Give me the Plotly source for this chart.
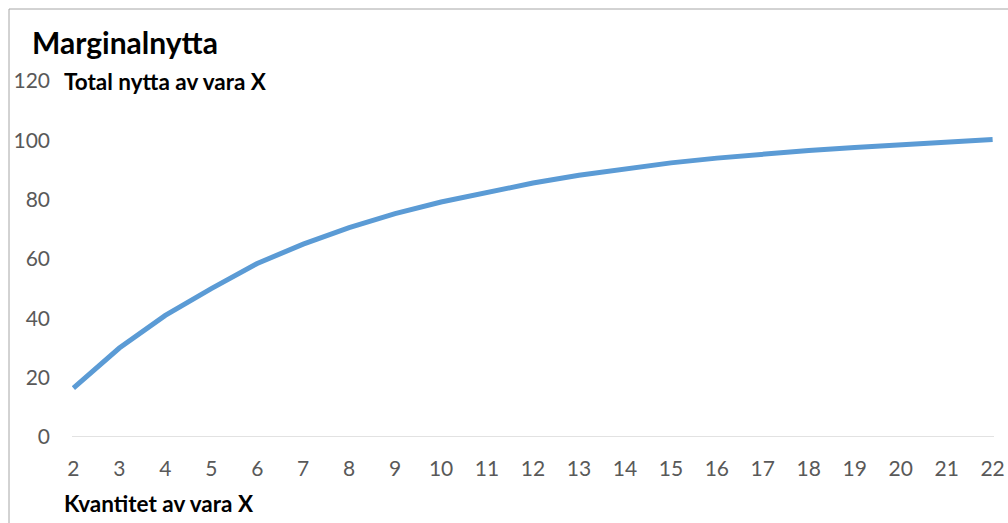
import plotly.graph_objects as go

# Total utility of good X per quantity
kvantitet = list(range(2, 23))
total_nytta = [16.5, 30.0, 41.0, 50.0, 58.5, 65.0, 70.6, 75.3, 79.2, 82.6, 85.6,
               88.2, 90.5, 92.4, 94.0, 95.4, 96.6, 97.6, 98.6, 99.5, 100.3]
y_ticks = [0, 20, 40, 60, 80, 100, 120]

W, H = 1008, 523
L, R, T, B = 72, 14, 81, 86
PW, PH = W - L - R, H - T - B


def px_x(px):
    return (px - L) / PW


def px_y(py):
    return (H - B - py) / PH


FONT = "Lato"
GRAY = "#595959"

fig = go.Figure()
fig.add_trace(go.Scatter(
    x=kvantitet, y=total_nytta, mode="lines",
    line=dict(color="#5b9bd5", width=5),
    hoverinfo="x+y", showlegend=False,
))

fig.update_layout(
    width=W, height=H,
    margin=dict(l=L, r=R, t=T, b=B, autoexpand=False),
    paper_bgcolor="white", plot_bgcolor="white",
    font=dict(family=FONT, color=GRAY, size=21),
    title=dict(text="<b>Marginalnytta</b>", x=32 / W, xanchor="left",
               y=1 - 43 / H, yanchor="middle",
               font=dict(family=FONT, size=30, color="black"),
               automargin=False),
    xaxis=dict(range=[1.97, 22.03], tickmode="array", tickvals=kvantitet,
               showgrid=False, zeroline=False, showline=False, ticks="",
               automargin=False,
               ticklabelstandoff=17, tickfont=dict(size=21, color=GRAY)),
    yaxis=dict(range=[0, 120], tickmode="array", tickvals=y_ticks,
               showgrid=False, zeroline=False, showline=False, ticks="",
               automargin=False,
               ticklabelstandoff=21, tickfont=dict(size=21, color=GRAY)),
    annotations=[
        dict(text="<b>Total nytta av vara X</b>", xref="paper", yref="paper",
             x=px_x(62), y=px_y(81), xanchor="left", yanchor="middle",
             showarrow=False, font=dict(family=FONT, size=22.5, color="black")),
        dict(text="<b>Kvantitet av vara X</b>", xref="paper", yref="paper",
             x=px_x(62), y=px_y(503), xanchor="left", yanchor="middle",
             showarrow=False, font=dict(family=FONT, size=22.5, color="black")),
    ],
    shapes=[
        # baseline at zero
        dict(type="line", xref="paper", yref="y", x0=0, x1=1, y0=0, y1=0,
             line=dict(color="#d9d9d9", width=1.5), layer="below"),
        # chart frame (top and left edges)
        dict(type="line", xref="paper", yref="paper", x0=px_x(9), x1=px_x(1010),
             y0=px_y(9), y1=px_y(9), line=dict(color="#a6a6a6", width=1)),
        dict(type="line", xref="paper", yref="paper", x0=px_x(9), x1=px_x(9),
             y0=px_y(9), y1=px_y(530), line=dict(color="#a6a6a6", width=1)),
    ],
)

fig.write_html("out.html")
